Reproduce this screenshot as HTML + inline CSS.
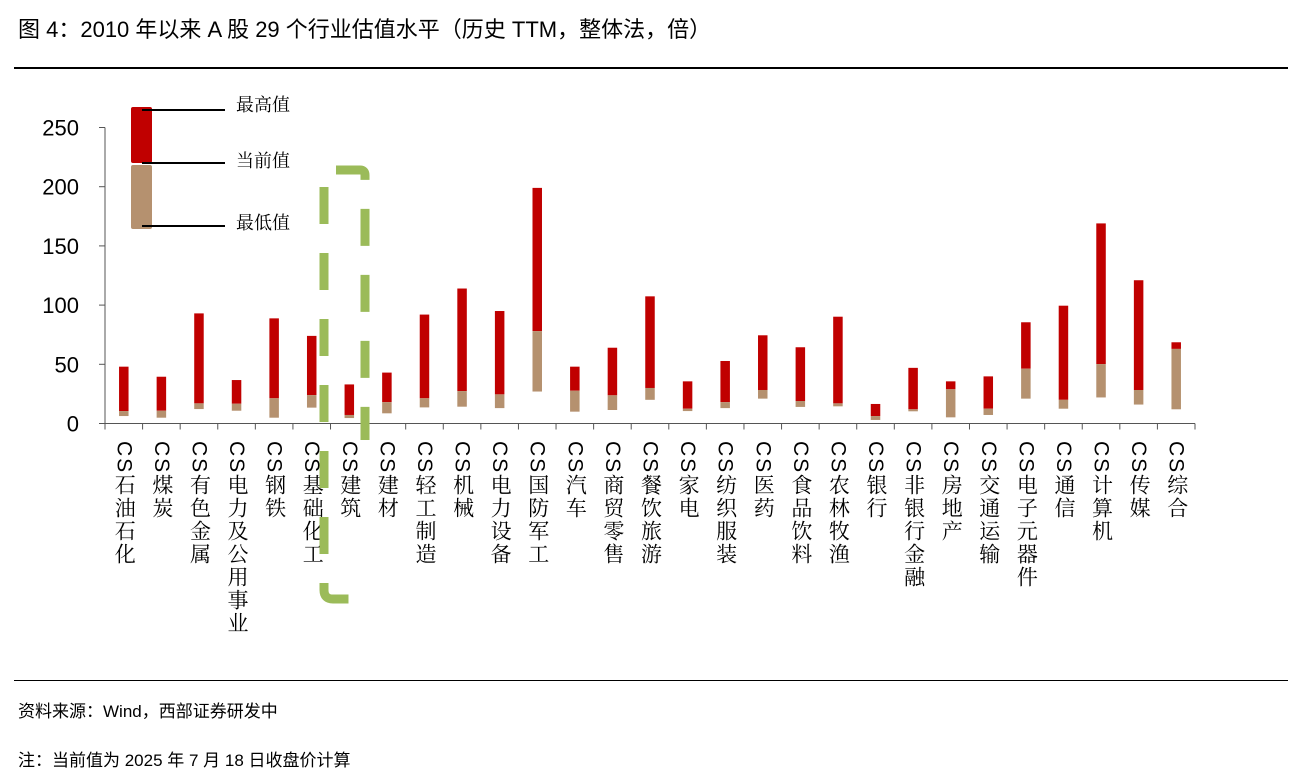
<!DOCTYPE html>
<html><head><meta charset="utf-8">
<style>
html,body{margin:0;padding:0;background:#fff;}
body{width:1296px;height:776px;position:relative;overflow:hidden;font-family:"Liberation Sans","Noto Sans CJK SC",sans-serif;}
.t{position:absolute;white-space:nowrap;color:#000;}
svg{position:absolute;left:0;top:0;}
.xl{font-family:"Liberation Sans","Noto Serif CJK SC",serif;font-size:21px;writing-mode:vertical-rl;text-orientation:mixed;letter-spacing:2px;}
.lg{font-family:"Noto Serif CJK SC",serif;font-size:18px;}
</style></head><body>
<div class="t" style="left:18px;top:12px;font-size:22px;">图 4：2010 年以来 A 股 29 个行业估值水平（历史 TTM，整体法，倍）</div>
<div style="position:absolute;left:14px;top:67px;width:1274px;height:2px;background:#000;"></div>
<div style="position:absolute;left:14px;top:680px;width:1274px;height:1px;background:#000;"></div>
<div class="t" style="left:18px;top:697px;font-size:17px;">资料来源：Wind，西部证券研发中</div>
<div class="t" style="left:18px;top:746px;font-size:17px;">注：当前值为 2025 年 7 月 18 日收盘价计算</div>
<svg id="chart" width="1296" height="776"></svg>
<script>
const categories=["石油石化","煤炭","有色金属","电力及公用事业","钢铁","基础化工","建筑","建材","轻工制造","机械","电力设备","国防军工","汽车","商贸零售","餐饮旅游","家电","纺织服装","医药","食品饮料","农林牧渔","银行","非银行金融","房地产","交通运输","电子元器件","通信","计算机","传媒","综合"];
const maxValues=[48,39.5,93,36.7,88.8,74,33,43,92,114,95,199,48,64,107.4,35.6,52.8,74.5,64.4,90.2,16.5,47,35.6,39.8,85.5,99.5,169,121,68.6];
const currentValues=[10.5,10.8,17,16.7,21.3,24,7.2,18,21.3,27.4,24.6,78,27.7,23.8,30,12.5,18,28.3,19,17,6.3,12,28.9,12.5,46.3,20,50.2,28.3,63];
const minValues=[6.3,4.9,12.2,10.8,4.9,13.4,4.6,8.6,13.6,14.2,13,27,10,11.4,20,10.5,13,21,14,14.5,3,10.3,5.2,7.2,21,12.5,22,16,12];
const yTicks=[0,50,100,150,200,250];

const NS="http://www.w3.org/2000/svg";
const svg=document.getElementById('chart');
const X0=105,X1=1195,Y0=423.5,PX=1.184;
const step=(X1-X0)/categories.length;
const xs=i=>X0+step*(i+0.5);
const ys=v=>Y0-v*PX;
function mk(tag,attrs){const e=document.createElementNS(NS,tag);for(const k in attrs)e.setAttribute(k,attrs[k]);svg.appendChild(e);return e;}

let ya=mk('line',{x1:X0,y1:ys(250),x2:X0,y2:Y0,stroke:'#555','stroke-width':1});


yTicks.forEach(v=>{
  const tk=mk('line',{x1:X0-6,y1:ys(v),x2:X0,y2:ys(v),stroke:'#555'});
  
  
  const tl=mk('text',{x:X0-26,y:ys(v)+8,'text-anchor':'end','font-size':22,'font-family':'Liberation Sans, sans-serif'});
  tl.textContent=v;
  
  
});
let xa=mk('line',{x1:X0,y1:Y0,x2:X1,y2:Y0,stroke:'#555'});


for(let i=0;i<=categories.length;i++){
  const x=X0+step*i;
  const tk=mk('line',{x1:x,y1:Y0,x2:x,y2:Y0+6,stroke:'#555'});
  
  
}
categories.forEach((c,i)=>{
  const x=xs(i)-4.75,w=9.5;
  const r=mk('rect',{x:x,y:ys(maxValues[i]),width:w,height:ys(currentValues[i])-ys(maxValues[i]),fill:'#c00000'});
  
  
  const t=mk('rect',{x:x,y:ys(currentValues[i]),width:w,height:ys(minValues[i])-ys(currentValues[i]),fill:'#b5916f'});
  
  
  const lab=mk('text',{x:xs(i),y:441,'class':'xl'});
  lab.textContent='CS'+c;
  
  
});
let lr=mk('rect',{x:131,y:107,width:21,height:56,fill:'#c00000',rx:2});


let lt=mk('rect',{x:131,y:165,width:21,height:64,fill:'#b5916f',rx:2});


[[110,'最高值',104],[163,'当前值',160],[226,'最低值',222]].forEach(a=>{
  const l=mk('line',{x1:142,y1:a[0],x2:225,y2:a[0],stroke:'#000','stroke-width':2});
  
  
  const t=mk('text',{x:236,y:a[2]+7,'class':'lg'});
  t.textContent=a[1];
  
  
});
let hb=mk('path',{d:'M336 170 L360 170 Q365 170 365 175 L365 440 M324 187 L324 590 Q324 599 333 599 L360 599',fill:'none',stroke:'#9bbb59','stroke-width':9,'stroke-dasharray':'37 29'});


</script>
</body></html>
